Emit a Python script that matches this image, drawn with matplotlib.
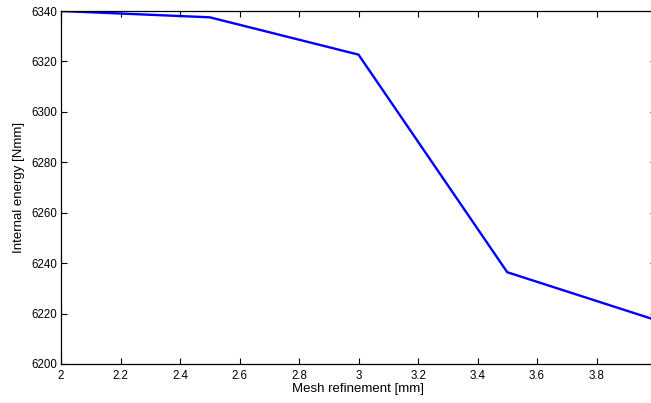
import numpy as np
import matplotlib.pyplot as plt

plt.rcParams['font.family'] = ['Liberation Sans', 'DejaVu Sans']

# mesh size [mm] vs internal energy [Nmm]
mesh = [2.0, 2.5, 3.0, 3.5, 4.0]
energy = [6340.0, 6337.5, 6322.7, 6236.4, 6217.4]

fig = plt.figure(figsize=(6.51, 4.03), dpi=100)
# right edge of the axes falls just outside the picture, as in the original
ax = fig.add_axes([61 / 651, 1 - 364 / 403, 595 / 651, 353 / 403])
ax.plot(mesh, energy, color=(0, 0, 1), linewidth=1.7)

ax.set_xlim(2, 4)
ax.set_ylim(6200, 6340)
ax.set_xticks(np.arange(2, 3.81, 0.2))
ax.set_xticklabels(['2', '2.2', '2.4', '2.6', '2.8', '3', '3.2', '3.4', '3.6', '3.8'])
ax.set_yticks(np.arange(6200, 6341, 20))
ax.tick_params(direction='in', length=4, width=0.8, labelsize=8.3,
               top=True, right=True)
ax.tick_params(axis='x', pad=4)
ax.tick_params(axis='y', pad=2.5)
for s in ax.spines.values():
    s.set_linewidth(0.9)

ax.set_xlabel('Mesh refinement [mm]', fontsize=9.5, labelpad=1)
ax.set_ylabel('Internal energy [Nmm]', fontsize=9.5, labelpad=5)

fig.savefig('out.png', dpi=100)
